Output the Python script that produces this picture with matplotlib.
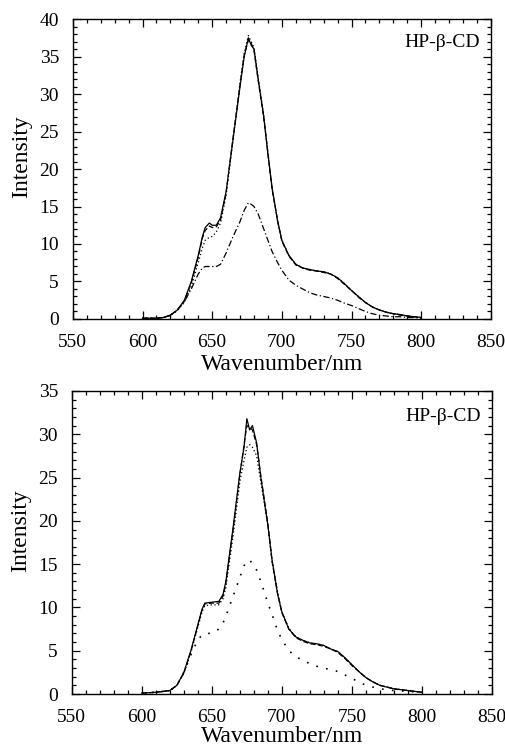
import matplotlib

matplotlib.use("Agg")
import matplotlib.pyplot as plt
from matplotlib.ticker import MultipleLocator

plt.rcParams["font.family"] = ["Liberation Serif", "DejaVu Serif"]

# --- panel superior ---
wl_top = [600, 610, 615, 620, 625, 630, 635, 640, 643, 645, 648, 650, 653, 656,
          660, 665, 670, 673, 676, 678, 680, 683, 687, 690, 693, 697, 700, 705,
          710, 715, 720, 725, 730, 735, 740, 745, 750, 755, 760, 765, 770, 775,
          780, 785, 790, 795, 800]
top_solid = [0.1, 0.1, 0.2, 0.5, 1.2, 2.5, 5.0, 8.5, 11.0, 12.2, 12.8, 12.5, 12.5,
             13.5, 17.0, 24.0, 31.0, 35.0, 37.5, 36.5, 36.0, 32.0, 27.0, 22.0, 17.5,
             13.0, 10.5, 8.5, 7.3, 6.8, 6.6, 6.4, 6.3, 6.0, 5.5, 4.7, 3.8, 3.0, 2.2,
             1.6, 1.2, 0.9, 0.7, 0.6, 0.4, 0.3, 0.2]
top_dashed = [0.1, 0.1, 0.2, 0.5, 1.2, 2.4, 4.8, 8.2, 10.8, 11.8, 12.4, 12.2, 12.3,
              13.2, 16.8, 24.2, 31.2, 35.2, 37.2, 36.8, 35.8, 31.8, 26.8, 22.2, 17.3,
              13.1, 10.4, 8.4, 7.2, 6.8, 6.5, 6.4, 6.2, 6.0, 5.4, 4.6, 3.8, 2.9, 2.2,
              1.6, 1.2, 0.9, 0.7, 0.5, 0.4, 0.3, 0.2]
top_dotted = [0.1, 0.1, 0.2, 0.5, 1.1, 2.2, 4.3, 7.5, 9.5, 10.5, 10.9, 11.0, 11.6,
              12.8, 16.5, 24.0, 31.5, 35.5, 37.8, 37.0, 36.2, 32.2, 27.2, 22.0, 17.4,
              13.0, 10.5, 8.5, 7.3, 6.8, 6.6, 6.4, 6.3, 6.0, 5.5, 4.7, 3.8, 3.0, 2.2,
              1.6, 1.2, 0.9, 0.7, 0.6, 0.4, 0.3, 0.2]
top_dashdot = [0.1, 0.1, 0.2, 0.5, 1.2, 2.3, 4.0, 6.0, 6.8, 7.0, 7.0, 7.0, 7.0,
               7.3, 8.8, 11.0, 13.0, 14.5, 15.5, 15.3, 15.0, 14.0, 12.0, 10.5, 9.0,
               7.5, 6.5, 5.2, 4.5, 4.0, 3.5, 3.2, 3.0, 2.8, 2.5, 2.1, 1.8, 1.4, 1.0,
               0.7, 0.5, 0.4, 0.3, 0.3, 0.2, 0.2, 0.1]

# --- panel inferior ---
wl_bot = [600, 610, 620, 625, 630, 635, 640, 643, 645, 650, 655, 658, 660, 665,
          670, 673, 675, 677, 679, 682, 685, 690, 693, 697, 700, 705, 710, 715,
          720, 725, 730, 735, 740, 745, 750, 755, 760, 765, 770, 775, 780, 790, 800]
bot_solid = [0.1, 0.2, 0.4, 1.0, 2.5, 5.0, 8.0, 9.8, 10.5, 10.6, 10.7, 11.5, 13.0,
             19.0, 25.5, 28.5, 31.8, 30.5, 31.0, 29.0, 25.0, 19.5, 15.5, 11.5, 9.5,
             7.5, 6.6, 6.2, 5.9, 5.8, 5.6, 5.2, 4.9, 4.2, 3.4, 2.6, 1.9, 1.4, 1.0,
             0.8, 0.6, 0.4, 0.2]
bot_dashed = [0.1, 0.2, 0.4, 1.0, 2.4, 4.9, 7.9, 9.7, 10.4, 10.5, 10.5, 11.3, 12.8,
              18.8, 25.3, 28.8, 31.0, 30.8, 30.5, 28.8, 25.2, 19.7, 15.3, 11.6, 9.4,
              7.5, 6.5, 6.1, 5.8, 5.7, 5.5, 5.2, 4.8, 4.1, 3.3, 2.6, 1.9, 1.4, 1.0,
              0.8, 0.6, 0.4, 0.2]
bot_dotted = [0.1, 0.2, 0.4, 1.0, 2.4, 4.8, 7.7, 9.5, 10.2, 10.3, 10.3, 11.0, 12.3,
              18.0, 24.5, 27.0, 28.5, 28.8, 28.5, 27.5, 24.5, 19.5, 15.5, 11.7, 9.5,
              7.6, 6.6, 6.2, 5.9, 5.8, 5.6, 5.2, 4.9, 4.2, 3.4, 2.6, 1.9, 1.4, 1.0,
              0.8, 0.6, 0.4, 0.2]
bot_low = [0.1, 0.2, 0.4, 1.0, 2.5, 4.5, 6.3, 6.8, 7.0, 7.0, 7.5, 8.2, 9.0, 11.2,
           13.5, 14.8, 15.3, 15.5, 15.0, 14.3, 13.0, 10.5, 9.2, 7.3, 6.3, 5.0, 4.3,
           3.9, 3.5, 3.2, 3.0, 2.8, 2.6, 2.2, 1.8, 1.4, 1.0, 0.8, 0.6, 0.5, 0.4, 0.3,
           0.2]

label_txt = "HP-β-CD"


def style_axes(ax, ymax, text_y, xlabel_pad):
    ax.set_xlim(550, 850)
    ax.set_ylim(0, ymax)
    ax.xaxis.set_major_locator(MultipleLocator(50))
    ax.xaxis.set_minor_locator(MultipleLocator(10))
    ax.yaxis.set_major_locator(MultipleLocator(5))
    ax.yaxis.set_minor_locator(MultipleLocator(1))
    ax.tick_params(which="both", direction="in", top=True, right=True,
                   labelsize=14, width=0.9)
    ax.tick_params(which="major", length=6)
    ax.tick_params(which="minor", length=3)
    ax.tick_params(axis="x", which="major", pad=11)
    ax.tick_params(axis="y", which="major", pad=10)
    for s in ax.spines.values():
        s.set_linewidth(1.0)
    ax.set_xlabel("Wavenumber/nm", fontsize=17, labelpad=xlabel_pad)
    ax.set_ylabel("Intensity", fontsize=17)
    ax.yaxis.set_label_coords(-0.097, 0.54)
    ax.text(0.975, text_y, label_txt, transform=ax.transAxes, ha="right",
            va="center", fontsize=14)


fig = plt.figure(figsize=(5.06, 7.46), dpi=100)

ax1 = fig.add_axes([0.144, 0.5724, 0.826, 0.4021])
ax1.plot(wl_top, top_solid, color="black", lw=0.9, ls="-")
ax1.plot(wl_top, top_dashed, color="black", lw=0.9, ls=(0, (4, 2)))
ax1.plot(wl_top, top_dotted, color="black", lw=0.9, ls=(0, (1, 2)))
ax1.plot(wl_top, top_dashdot, color="black", lw=0.9, ls=(0, (5, 2, 1, 2)))
style_axes(ax1, 40, 0.923, 2)

ax2 = fig.add_axes([0.142, 0.0697, 0.830, 0.4062])
ax2.plot(wl_bot, bot_solid, color="black", lw=0.9, ls="-")
ax2.plot(wl_bot, bot_dashed, color="black", lw=0.9, ls=(0, (4, 2)))
ax2.plot(wl_bot, bot_dotted, color="black", lw=0.9, ls=(0, (1, 2)))
ax2.plot(wl_bot, bot_low, color="black", lw=1.2, ls=(0, (1, 5)))
style_axes(ax2, 35, 0.917, 0)

fig.savefig("out.png", dpi=100)
